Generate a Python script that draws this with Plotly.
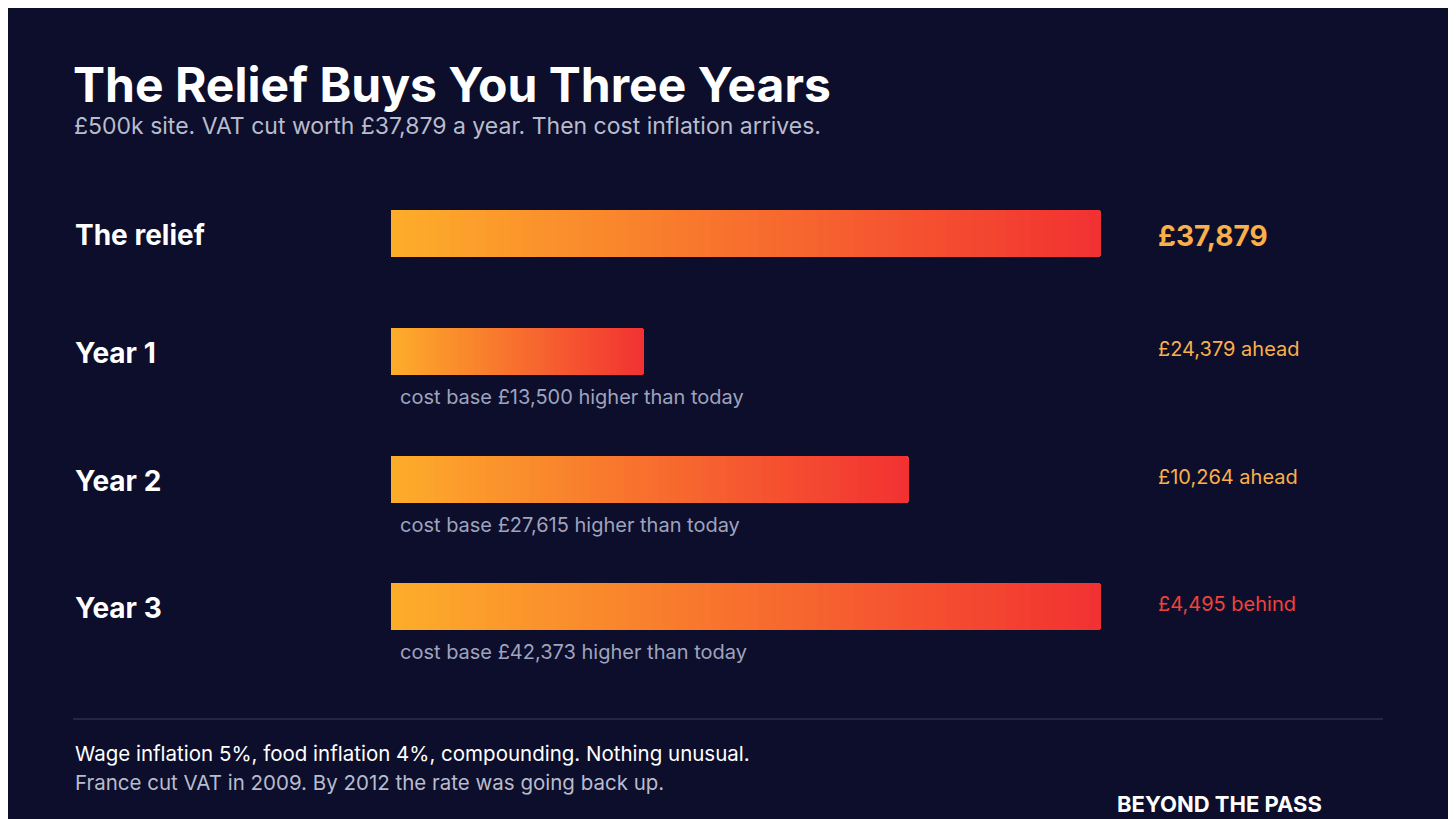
import plotly.graph_objects as go

OFF = 8  # page body margin in the browser
W, H = 1456 - OFF, 819 - OFF
BG = "#0c0e2b"
FONT = "Inter"

labels = ["The relief", "Year 1", "Year 2", "Year 3"]
values = [37879, 13500, 27615, 42373]
right_text = ["£37,879", "£24,379 ahead", "£10,264 ahead", "£4,495 behind"]
right_color = ["#f9b04a", "#f9b04a", "#f9b04a", "#f0423a"]
sub_text = ["", "cost base £13,500 higher than today",
            "cost base £27,615 higher than today",
            "cost base £42,373 higher than today"]

row_y = [233 - OFF, 351 - OFF, 479 - OFF, 606 - OFF]  # pixel centres
cap = values[0]
N = 60
c0, c1 = (253, 172, 42), (242, 50, 50)


def mix(t):
    return "rgb(%d,%d,%d)" % tuple(round(a + (b - a) * t) for a, b in zip(c0, c1))


fig = go.Figure()
for i in range(N):
    t = i / (N - 1)
    fig.add_trace(go.Bar(
        x=[min(v, cap) / N for v in values], y=row_y, orientation="h",
        width=47, marker=dict(color=mix(t), line=dict(width=0)),
        hoverinfo="skip", showlegend=False))

ann = []


def txt(x, y, s, size, color, bold=False):
    ann.append(dict(x=(x - OFF) / W, y=1 - (y - OFF) / H, xref="paper", yref="paper",
                    text=s, showarrow=False, xanchor="left", yanchor="middle",
                    font=dict(size=size, color=color, family=FONT,
                              weight=700 if bold else 400)))


txt(71, 84, "The Relief Buys You Three Years", 48, "white", True)
txt(72, 126, "£500k site. VAT cut worth £37,879 a year. Then cost inflation arrives.", 23, "#b8bccd")
for i, lab in enumerate(labels):
    txt(73, row_y[i] + OFF + 2, lab, 28, "white", True)
    txt(1156, row_y[i] + OFF + (3 if i == 0 else -2), right_text[i], 28 if i == 0 else 20,
        right_color[i], i == 0)
    if sub_text[i]:
        txt(398, row_y[i] + OFF + 46, sub_text[i], 20, "#9fa3bd")
txt(73, 753, "Wage inflation 5%, food inflation 4%, compounding. Nothing unusual.", 20.5, "white")
txt(73, 782, "France cut VAT in 2009. By 2012 the rate was going back up.", 20.5, "#b8bccd")
txt(1115, 804, "BEYOND THE PASS", 22, "white", True)

fig.update_layout(
    width=W, height=H, paper_bgcolor=BG, plot_bgcolor=BG,
    margin=dict(l=0, r=0, t=0, b=0), barmode="stack", bargap=0,
    barcornerradius=3, annotations=ann,
    shapes=[dict(type="line", xref="paper", yref="paper", x0=(73 - OFF) / W,
                 x1=(1383 - OFF) / W, y0=1 - (719 - OFF) / H, y1=1 - (719 - OFF) / H,
                 line=dict(color="#3c3f5e", width=1))],
    xaxis=dict(domain=[(391 - OFF) / W, (1101 - OFF) / W], range=[0, cap],
               visible=False, fixedrange=True),
    yaxis=dict(range=[H, 0], visible=False, fixedrange=True),
)
fig.write_html("out.html")
